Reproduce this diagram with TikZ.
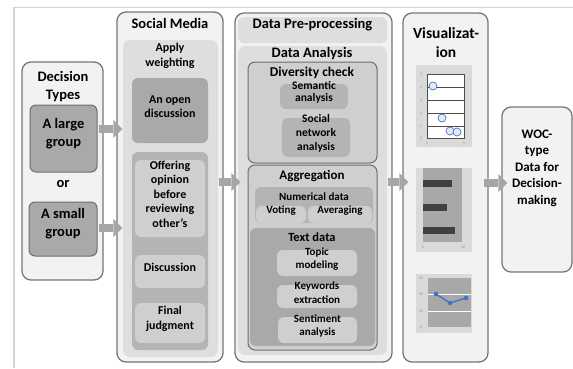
\documentclass[tikz,border=0pt]{standalone}
\usepackage{fontspec}
\setmainfont{Carlito}
\usetikzlibrary{arrows.meta, fit, positioning}

\definecolor{framefill}{HTML}{F2F2F2}
\definecolor{frameedge}{HTML}{767676}
\definecolor{panelfill}{HTML}{DEDEDE}
\definecolor{groupfill}{HTML}{CFCFCF}
\definecolor{groupedge}{HTML}{6E6E6E}
\definecolor{darkfill}{HTML}{A9A9A9}
\definecolor{midfill}{HTML}{B4B4B4}
\definecolor{lightfill}{HTML}{CFCFCF}
\definecolor{arrowfill}{HTML}{A6A6A6}
\definecolor{chartbg}{HTML}{DADADA}
\definecolor{plotfill}{HTML}{A8A8A8}
\definecolor{barfill}{HTML}{404040}
\definecolor{dotblue}{HTML}{4472C4}
\definecolor{pageline}{HTML}{D4D4D4}

\newcommand\boxtitle{\bfseries\fontsize{14.5}{18}\selectfont}
\newcommand\boxtext{\bfseries\fontsize{12}{14.5}\selectfont}
\newcommand\boxsmall{\bfseries\fontsize{11}{13.5}\selectfont}

\begin{document}
\begin{tikzpicture}[x=1pt, y=-1pt,
    frame/.style={draw=frameedge, line width=1.3pt, fill=framefill, rounded corners=9pt, inner sep=0pt},
    panel/.style={fill=panelfill, rounded corners=7pt, inner sep=0pt},
    group/.style={draw=groupedge, line width=1pt, fill=groupfill, rounded corners=7pt, inner sep=0pt},
    box/.style={rounded corners=6pt, inner sep=0pt, align=center, font=\boxtext},
    title/.style={align=center, font=\boxtitle, inner sep=0pt},
    caption/.style={align=center, font=\boxtext, inner sep=0pt},
    flow/.style={draw=arrowfill, line width=8pt, -{Triangle[length=9pt, width=18pt, line width=0pt]}, shorten <=-5pt, shorten >=-6pt},
    tick/.style={font=\fontsize{4}{4}\selectfont, text=gray!80, inner sep=0pt},
]
    \useasboundingbox (0,0) rectangle (573,368);

    % Page edge
    \draw[pageline, line width=1.5pt] (14,368) -- (14,7.5) -- (573,7.5);

    % Decision types
    \node[frame, fit={(22,62) (103,280)}] (types) {};
    \node[title] (typesTitle) at (63,87) {Decision\\Types};
    \node[box, font=\boxtitle, fill=darkfill, draw=groupedge, line width=1pt, fit={(30,105) (97,172)}] (large) {A large\\group};
    \node[title] (orLabel) at (63,184) {or};
    \node[box, font=\boxtitle, fill=darkfill, draw=groupedge, line width=1pt, fit={(29,202) (97,256)}] (small) {A small\\group};

    % Social media
    \node[frame, fit={(117,12) (223,362)}] (social) {};
    \node[title] (socialTitle) at (170,23) {Social Media};
    \node[panel, fit={(123,40) (218,357)}] (weighting) {};
    \node[caption] (weightingTitle) at (170,56) {Apply\\weighting};
    \node[box, fill=darkfill, fit={(132,78) (208,143)}] (open) {An open\\discussion};
    \node[box, fill=midfill, fit={(132,152) (208,350)}] (process) {};
    \node[box, fill=lightfill, fit={(135,160) (205,237)}] (offering) {Offering\\opinion\\before\\reviewing\\other's};
    \node[box, fill=lightfill, fit={(135,255) (205,288)}] (discussion) {Discussion};
    \node[box, fill=lightfill, fit={(135,303) (205,343)}] (judgment) {Final\\judgment};

    % Data pre-processing and analysis
    \node[frame, fit={(235,13) (392,362)}] (data) {};
    \node[box, font=\boxtitle, fill=panelfill, fit={(238,17) (387,43)}] (prep) {Data Pre-processing};
    \node[panel, fit={(238,46) (387,355)}] (analysis) {};
    \node[title] (analysisTitle) at (312,54) {Data Analysis};

    \node[group, fit={(248,62) (377,163)}] (diversity) {};
    \node[caption, font=\bfseries\fontsize{13.5}{16}\selectfont] (diversityTitle) at (312,73) {Diversity check};
    \node[box, fill=midfill, font=\bfseries\fontsize{11.5}{12.5}\selectfont, fit={(280,84) (348,109)}] (semantic) {Semantic\\analysis};
    \node[box, fill=midfill, font=\bfseries\fontsize{11.5}{14}\selectfont, fit={(282,118) (350,157)}] (network) {Social\\network\\analysis};

    \node[group, fit={(248,165) (377,350)}] (aggregation) {};
    \node[caption, font=\bfseries\fontsize{13}{15}\selectfont] (aggregationTitle) at (312,176) {Aggregation};
    \node[box, fill=midfill, fit={(255,187) (373,223)}] (numerical) {};
    \node[caption, font=\boxsmall] (numericalTitle) at (314,197) {Numerical data};
    \node[box, font=\boxsmall, fill=lightfill, fit={(256,206) (306,223)}] (voting) {Voting};
    \node[box, font=\boxsmall, fill=lightfill, fit={(308,206) (372,223)}] (averaging) {Averaging};
    \node[box, fill=darkfill, fit={(250,228) (375,346)}] (textdata) {};
    \node[caption, font=\bfseries\fontsize{12.5}{14}\selectfont] (textdataTitle) at (312,237) {Text data};
    \node[box, font=\boxsmall, fill=lightfill, fit={(277,250) (357,276)}] (topic) {Topic\\modeling};
    \node[box, font=\boxsmall, fill=lightfill, fit={(277,285) (357,308)}] (keywords) {Keywords\\extraction};
    \node[box, font=\boxsmall, fill=lightfill, fit={(278,317) (357,343)}] (sentiment) {Sentiment\\analysis};

    % Visualization
    \node[frame, fit={(403,13) (488,362)}] (vis) {};
    \node[title, font=\bfseries\fontsize{15.5}{19}\selectfont] (visTitle) at (446,43) {Visualizat-\\ion};

    % Scatter chart
    \fill[chartbg] (416,65) rectangle (472,147);
    \draw[gray!60!black, line width=0.4pt, fill=white] (427,74) rectangle (464,138);
    \foreach \y in {87,100,113,126}
        \draw[gray!60!black, line width=0.4pt] (427,\y) -- (464,\y);
    \foreach \y [count=\i from 0] in {138,126,113,100,87,74}
        \node[tick] at (421,\y) {\i};
    \node[tick] at (427,143) {0};
    \node[tick] at (464,143) {5};
    \foreach \x/\y in {433/86, 442/118, 450/131, 457/132}
        \draw[dotblue, fill=dotblue!15, line width=0.7pt] (\x,\y) circle (4);

    % Bar chart
    \fill[chartbg] (416,168) rectangle (472,252);
    \fill[plotfill] (423,168) rectangle (462,242);
    \foreach \y/\len in {183/29, 207/24, 230/32}
        \fill[barfill] (423,\y-3.5) rectangle ++(\len,7);
    \node[tick] at (423,247) {0};
    \node[tick] at (463,247) {50};

    % Line chart
    \fill[chartbg] (416,274) rectangle (472,333);
    \fill[plotfill] (428,278) rectangle (471,327);
    \foreach \y in {294,311}
        \draw[white, line width=0.6pt] (428,\y) -- (471,\y);
    \foreach \v/\y in {60/278, 40/294, 20/311, 0/327}
        \node[tick] at (421,\y) {\v};
    \draw[dotblue, line width=1.4pt] (436,294) -- (450,303) -- (466,298);
    \foreach \x/\y in {436/294, 450/303, 466/298}
        \fill[dotblue] (\x,\y) circle (2.3);

    % Result
    \node[frame, fit={(502,107) (572,272)}] (woc) {};
    \node[caption, font=\bfseries\fontsize{13}{16.5}\selectfont] (wocText) at (537,168) {WOC-\\type\\Data for\\Decision-\\making};

    % Flow between the stages
    \draw[flow] (types.east |- 0,129) -- (social.west |- 0,129);
    \draw[flow] (types.east |- 0,228) -- (social.west |- 0,228);
    \draw[flow] (social.east |- 0,182) -- (data.west |- 0,182);
    \draw[flow] (data.east |- 0,182) -- (vis.west |- 0,182);
    \draw[flow] (vis.east |- 0,183) -- (woc.west |- 0,183);
\end{tikzpicture}
\end{document}
